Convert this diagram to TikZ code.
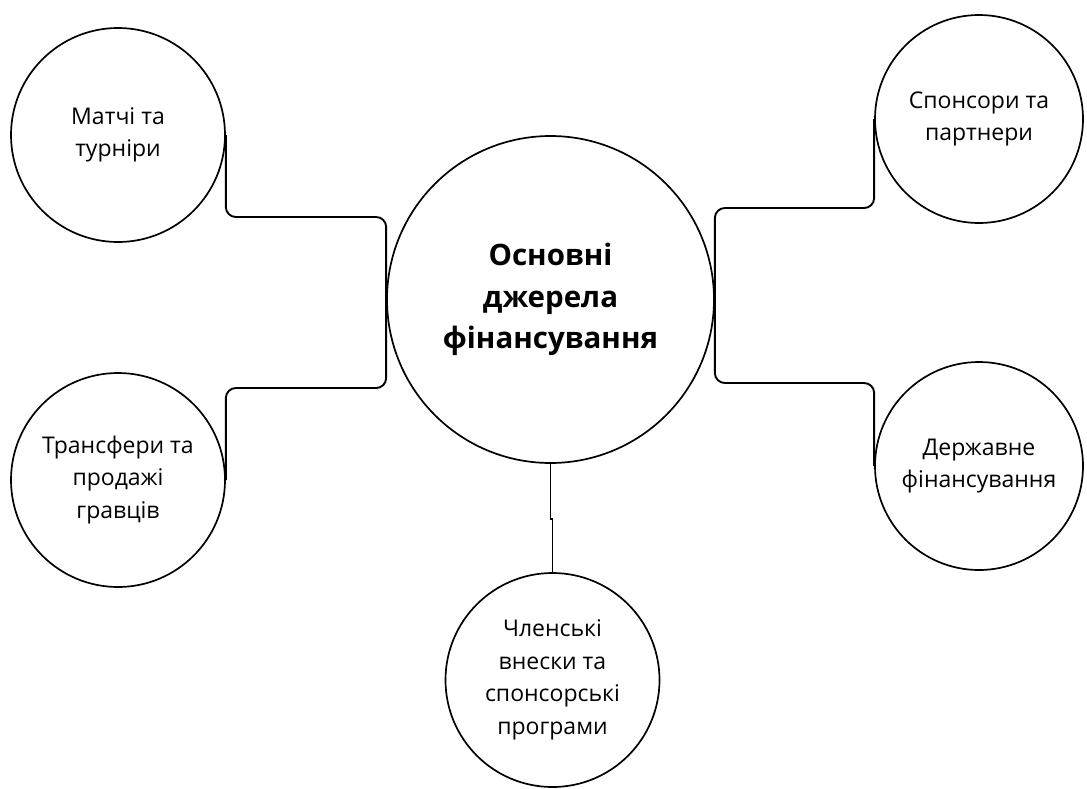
\documentclass[tikz,border=0pt]{standalone}
\usepackage{fontspec}
\setmainfont{Open Sans}
\tikzset{
  source/.style={circle, draw, line width=1.7pt, inner sep=0pt, align=center,
    font=\fontsize{23}{32.5}\selectfont},
  hub/.style={source, minimum size=327pt,
    font=\fontsize{29.5}{41.5}\selectfont\bfseries},
  link/.style={line width=1.9pt, rounded corners=10pt},
}

\begin{document}
\begin{tikzpicture}[x=1pt, y=-1pt]
  \useasboundingbox (0,0) rectangle (1087,788);

  % central circle
  \node[hub] (main) at (550.5,299.5) {Основні\\джерела\\фінансування};

  % sources
  \node[source, minimum size=214pt] (tl) at (118,135) {Матчі та\\турніри};
  \node[source, minimum size=214pt] (bl) at (118,480) {Трансфери та\\продажі\\гравців};
  \node[source, minimum size=208pt] (tr) at (979,119) {Спонсори та\\партнери};
  \node[source, minimum size=208pt] (br) at (979,466) {Державне\\фінансування};
  \node[source, minimum size=214pt] (bot) at (552.5,680) {Членські\\внески та\\спонсорські\\програми};

  % connectors
  \draw[link] (tl.east) -- ++(0,82) -| (main.west) -- ++(0,88.5) -| (bl.east);
  \draw[link] (tr.west) -- ++(0,89) -| (main.east) -- ++(0,83.5) -| (br.west);
  \draw[line width=1.9pt] (main.south) -- ++(0,55) -| (bot.north);
\end{tikzpicture}
\end{document}
